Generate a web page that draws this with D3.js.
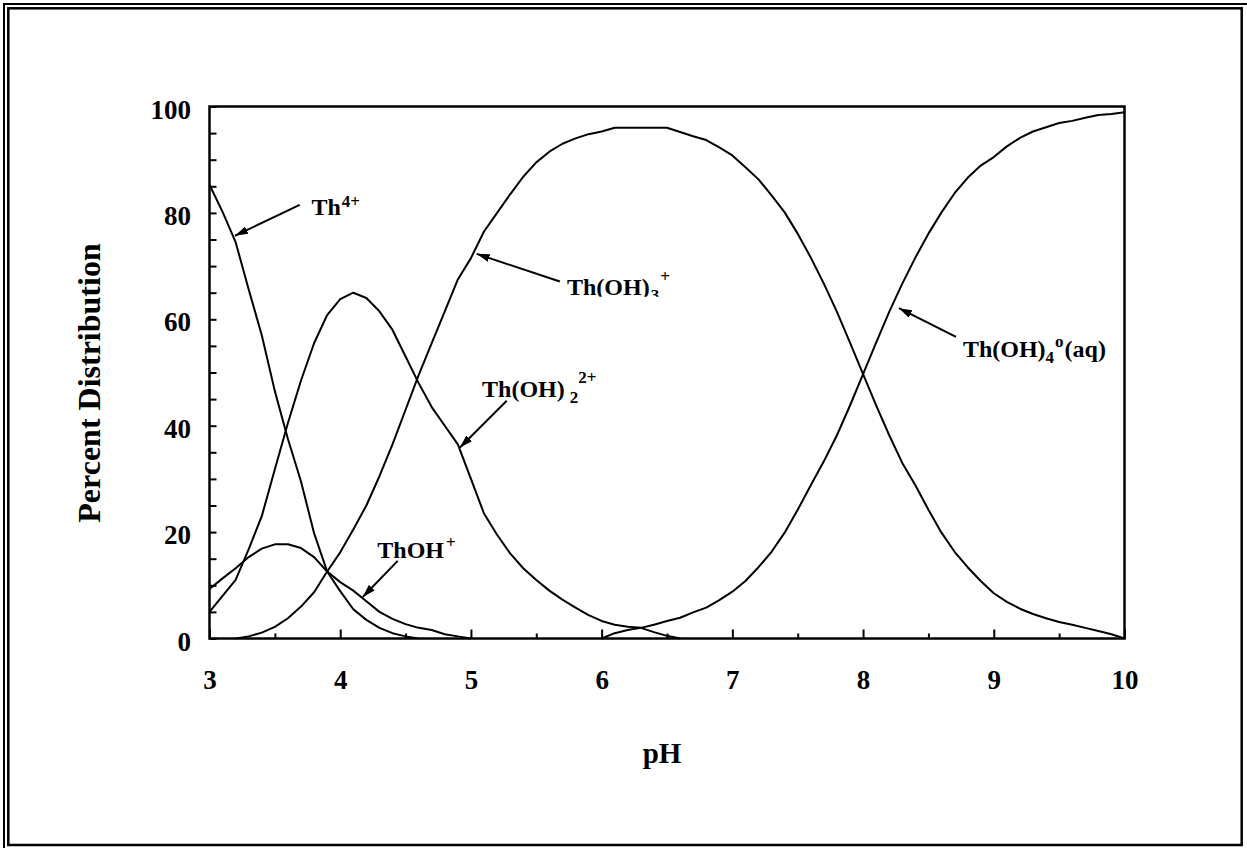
<!DOCTYPE html>
<html>
<head>
<meta charset="utf-8">
<script src="https://cdn.jsdelivr.net/npm/d3@7"></script>
<style>
  body { margin: 0; background: #fff; }
  text { font-family: 'Liberation Serif', 'Times New Roman', serif; font-weight: bold; fill: #000; }
</style>
</head>
<body>
<div id="chart"></div>
<script>
// pH grid, 0.1 steps
const ph = [
  3.0, 3.1, 3.2, 3.3, 3.4, 3.5, 3.6, 3.7, 3.8, 3.9,
  4.0, 4.1, 4.2, 4.3, 4.4, 4.5, 4.6, 4.7, 4.8, 4.9,
  5.0, 5.1, 5.2, 5.3, 5.4, 5.5, 5.6, 5.7, 5.8, 5.9,
  6.0, 6.1, 6.2, 6.3, 6.4, 6.5, 6.6, 6.7, 6.8, 6.9,
  7.0, 7.1, 7.2, 7.3, 7.4, 7.5, 7.6, 7.7, 7.8, 7.9,
  8.0, 8.1, 8.2, 8.3, 8.4, 8.5, 8.6, 8.7, 8.8, 8.9,
  9.0, 9.1, 9.2, 9.3, 9.4, 9.5, 9.6, 9.7, 9.8, 9.9,
  10.0
]

// percent distribution of each species, first value sits at the start pH
const th4 = [85.3, 80.2, 74.5, 65.6, 57.0, 46.5, 37.5, 29.5, 19.8, 12.6,
  8.9, 5.5, 3.5, 2.0, 1.0, 0.4, 0]
const th4Start = 3.0

const thOH = [9.3, 11.3, 13.2, 15.3, 16.9, 17.7, 17.7, 17.0, 15.3, 12.6,
  10.6, 9.0, 7.0, 5.0, 3.7, 2.7, 2.0, 1.6, 0.8, 0.4, 0]
const thOHStart = 3.0

const thOH2 = [5.0, 8.0, 11.0, 16.8, 23.0, 31.8, 40.5, 48.5, 55.5, 60.8,
  63.8, 65.0, 64.0, 61.5, 58.0, 53.0, 48.0, 43.5, 40.0, 36.5,
  30.0, 23.5, 19.5, 16.0, 13.2, 11.0, 9.0, 7.3, 5.8, 4.4,
  3.3, 2.6, 2.2, 2.0, 1.2, 0.5, 0]
const thOH2Start = 3.0

const thOH3 = [0, 0.4, 1.1, 2.2, 3.8, 6.0, 8.7, 12.6,
  16.2, 20.5, 25.0, 30.5, 36.5, 43.0, 49.5, 55.5, 61.5, 67.5,
  71.5, 76.5, 80.0, 83.5, 86.8, 89.5, 91.5, 93.0, 94.0, 94.8,
  95.3, 96.0, 96.0, 96.0, 96.0, 96.0, 95.2, 94.4, 93.7, 92.3,
  90.8, 88.6, 86.3, 83.3, 80.1, 76.1, 71.6, 66.7, 61.4, 55.6,
  49.7, 43.8, 38.2, 33.0, 28.8, 24.2, 19.9, 16.3, 13.4, 10.8,
  8.5, 6.9, 5.6, 4.6, 3.8, 3.1, 2.6, 2.0, 1.4, 0.8,
  0]
const thOH3Start = 3.2

const thOH4 = [0, 1.0, 1.6, 2.0, 2.6, 3.3, 3.9, 4.9, 5.8, 7.2,
  8.8, 10.8, 13.4, 16.3, 19.9, 24.2, 28.8, 33.3, 38.2, 43.8,
  49.7, 55.6, 61.4, 66.7, 71.6, 76.1, 80.1, 83.7, 86.6, 88.9,
  90.5, 92.5, 94.1, 95.3, 96.1, 96.9, 97.3, 97.9, 98.4, 98.6,
  98.9]
const thOH4Start = 6.0

const xMajor = [3, 4, 5, 6, 7, 8, 9, 10]
const xMinor = [3.5, 4.5, 5.5, 6.5, 7.5, 8.5, 9.5]
const yTicks = [0, 5, 10, 15, 20, 25, 30, 35, 40, 45, 50, 55, 60, 65, 70, 75, 80, 85, 90, 95, 100]
const yLabelled = [0, 20, 40, 60, 80, 100]

// labels: text pieces [text, dx, dy, size], label anchor and arrow (pH, %)
const labels = [
  { parts: [['Th', 0, 0, 24], ['4+', 1, -8.5, 17]], at: [3.78, 79.6], from: [3.69, 81.5], to: [3.195, 75.7] },
  { parts: [['Th(OH)', 0, 0, 24], ['3', 1, 6.5, 17], ['+', 1, -19.5, 17]], at: [5.735, 64.6], from: [5.68, 67.1], to: [5.044, 72.3], clip: true },
  { parts: [['Th(OH)', 0, 0, 24], ['2', 5, 6.3, 17], ['2+', 0, -20.6, 17]], at: [5.085, 45.4], from: [5.274, 44.7], to: [4.916, 35.9] },
  { parts: [['ThOH', 0, 0, 24], ['+', 2, -10, 17]], at: [4.284, 15.1], from: [4.44, 14.6], to: [4.172, 7.8] },
  { parts: [['Th(OH)', 0, 0, 24], ['4', 0, 5.7, 17], ['o', 1, -16, 17], ['(aq)', 1, 10.3, 24]], at: [8.764, 52.9], from: [8.711, 56.7], to: [8.274, 62.1] }
]

const W = 1247
const H = 848
const margin = { top: 106.5, left: 209.5, right: 122.5, bottom: 209.5 }
const width = W - margin.left - margin.right
const height = H - margin.top - margin.bottom

const root = d3
  .select('#chart')
  .append('svg')
  .attr('width', W)
  .attr('height', H)

// double frame round the whole chart
root
  .append('path')
  .attr('d', 'M4,' + H + 'V4H' + W)
  .attr('fill', 'none')
  .attr('stroke', '#000')
  .attr('stroke-width', 2)

root
  .append('rect')
  .attr('x', 8.3)
  .attr('y', 8.3)
  .attr('width', 1233.4)
  .attr('height', 836.7)
  .attr('fill', 'none')
  .attr('stroke', '#000')
  .attr('stroke-width', 2.5)

const defs = root.append('defs')
defs
  .append('marker')
  .attr('id', 'arrow')
  .attr('viewBox', '0 0 10 10')
  .attr('refX', 10)
  .attr('refY', 5)
  .attr('markerWidth', 13)
  .attr('markerHeight', 8)
  .attr('markerUnits', 'userSpaceOnUse')
  .attr('preserveAspectRatio', 'none')
  .attr('orient', 'auto')
  .append('path')
  .attr('d', 'M0,0L10,5L0,10Z')
  .attr('fill', '#000')

const svg = root
  .append('g')
  .attr('transform', 'translate(' + margin.left + ',' + margin.top + ')')

const xPositionScale = d3.scaleLinear().domain([3, 10]).range([0, width])
const yPositionScale = d3.scaleLinear().domain([0, 100]).range([height, 0])

function toPoints(values, start) {
  const i0 = ph.findIndex(p => Math.abs(p - start) < 1e-9)
  return values.map((v, i) => ({ ph: ph[i0 + i], v: v }))
}

const series = [
  toPoints(th4, th4Start),
  toPoints(thOH, thOHStart),
  toPoints(thOH2, thOH2Start),
  toPoints(thOH3, thOH3Start),
  toPoints(thOH4, thOH4Start)
]

const line = d3
  .line()
  .x(d => xPositionScale(d.ph))
  .y(d => yPositionScale(d.v))

svg
  .selectAll('.species')
  .data(series)
  .enter()
  .append('path')
  .attr('class', 'species')
  .attr('d', d => line(d))
  .attr('fill', 'none')
  .attr('stroke', '#000')
  .attr('stroke-width', 2)
  .attr('stroke-linejoin', 'round')

// axes, ticks point inwards
const xAxis = d3
  .axisBottom(xPositionScale)
  .tickValues(xMajor)
  .tickSize(-9)
  .tickFormat(d3.format('d'))
const xAxisG = svg
  .append('g')
  .attr('class', 'axis x-axis')
  .attr('transform', 'translate(0,' + height + ')')
  .call(xAxis)
xAxisG.select('.domain').remove()
xAxisG.selectAll('line').attr('stroke', '#000').attr('stroke-width', 2)
xAxisG
  .selectAll('text')
  .attr('y', 50)
  .attr('dy', null)
  .attr('font-size', 27)
  .attr('fill', '#000')

const xMinorG = svg
  .append('g')
  .attr('class', 'axis x-minor')
  .attr('transform', 'translate(0,' + height + ')')
  .call(d3.axisBottom(xPositionScale).tickValues(xMinor).tickSize(-5).tickFormat(''))
xMinorG.select('.domain').remove()
xMinorG.selectAll('line').attr('stroke', '#000').attr('stroke-width', 2)

const yAxis = d3
  .axisLeft(yPositionScale)
  .tickValues(yTicks)
  .tickSize(-7)
  .tickFormat(d => (yLabelled.includes(d) ? d : ''))
const yAxisG = svg
  .append('g')
  .attr('class', 'axis y-axis')
  .call(yAxis)
yAxisG.select('.domain').remove()
yAxisG.selectAll('line').attr('stroke', '#000').attr('stroke-width', 2)
yAxisG
  .selectAll('text')
  .attr('x', -18.5)
  .attr('y', 11.5)
  .attr('dy', null)
  .attr('font-size', 27)
  .attr('fill', '#000')

// plot frame
svg
  .append('rect')
  .attr('width', width)
  .attr('height', height)
  .attr('fill', 'none')
  .attr('stroke', '#000')
  .attr('stroke-width', 2.5)

// axis titles
root
  .append('text')
  .attr('x', 662)
  .attr('y', 763)
  .attr('text-anchor', 'middle')
  .attr('font-size', 29)
  .text('pH')

root
  .append('text')
  .attr('transform', 'translate(100,383) rotate(-90)')
  .attr('text-anchor', 'middle')
  .attr('font-size', 32)
  .text('Percent Distribution')

// species labels with arrows
labels.forEach((d, i) => {
  svg
    .append('line')
    .attr('x1', xPositionScale(d.from[0]))
    .attr('y1', yPositionScale(d.from[1]))
    .attr('x2', xPositionScale(d.to[0]))
    .attr('y2', yPositionScale(d.to[1]))
    .attr('stroke', '#000')
    .attr('stroke-width', 2)
    .attr('marker-end', 'url(#arrow)')

  const lx = xPositionScale(d.at[0])
  const ly = yPositionScale(d.at[1])
  const t = svg.append('text').attr('x', lx).attr('y', ly)
  d.parts.forEach(p => {
    t.append('tspan')
      .attr('dx', p[1])
      .attr('dy', p[2])
      .attr('font-size', p[3])
      .text(p[0])
  })
  if (d.clip) {
    // the original text box cuts off the bottom of this label
    defs
      .append('clipPath')
      .attr('id', 'clip-' + i)
      .append('rect')
      .attr('x', lx - 5)
      .attr('y', ly - 40)
      .attr('width', 200)
      .attr('height', 42)
    t.attr('clip-path', 'url(#clip-' + i + ')')
  }
})
</script>
</body>
</html>
